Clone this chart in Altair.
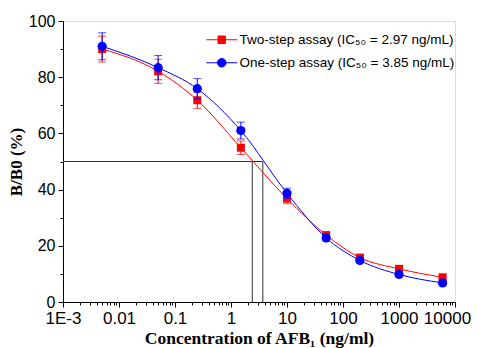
import altair as alt
import pandas as pd

# ---- data ----
conc = [0.005, 0.05, 0.25, 1.5, 10, 50, 200, 1000, 6000]
two_step = [90.0, 82.1, 71.8, 54.9, 36.8, 23.8, 15.8, 11.8, 8.8]
two_err = [4.6, 4.3, 2.9, 2.4, 1.8, 0.8, 0.8, 0.7, 0.6]
one_step = [91.0, 83.4, 75.9, 61.0, 38.7, 22.8, 14.8, 9.8, 6.8]
one_err = [4.8, 4.3, 3.6, 3.0, 1.8, 1.0, 0.8, 0.7, 0.6]
series_names = ["Two-step assay (IC₅₀ = 2.97 ng/mL)", "One-step assay (IC₅₀ = 3.85 ng/mL)"]
series_colors = ["#FF0000", "#0000FF"]
series_shapes = ["square", "circle"]
ic50_lines = [2.4, 3.7]          # positions of the vertical guide lines
half_level = 50
x_major = [0.001, 0.01, 0.1, 1, 10, 100, 1000, 10000]
x_minor = [m * d for d in [0.001, 0.01, 0.1, 1, 10, 100, 1000] for m in range(2, 10)]
y_major = [0, 20, 40, 60, 80, 100]
y_minor = [10, 30, 50, 70, 90]

rows = []
for name, vals, errs in [(series_names[0], two_step, two_err), (series_names[1], one_step, one_err)]:
    for c, v, e in zip(conc, vals, errs):
        rows.append({"series": name, "conc": c, "val": v, "lo": v - e, "hi": v + e})
df = pd.DataFrame(rows)

hline = pd.DataFrame({"x": [x_major[0]], "x2": [max(ic50_lines)], "y": [half_level]})
vlines = pd.DataFrame({"x": ic50_lines, "y": [0] * len(ic50_lines), "y2": [half_level] * len(ic50_lines)})

xscale = alt.Scale(type="log", domain=[x_major[0], x_major[-1]], nice=False)
yscale = alt.Scale(domain=[0, 100], nice=False)

major_test_x = "abs(log(datum.value)/LN10 - round(log(datum.value)/LN10)) < 1e-6"
x_axis = alt.Axis(
    title="Concentration of AFB₁ (ng/ml)",
    values=x_major + x_minor,
    labelExpr="(" + major_test_x + ") ? (datum.value < 0.005 ? '1E-3' : format(datum.value, '~g')) : ''",
    tickSize={"condition": {"test": major_test_x, "value": 5}, "value": 3},
    labelOffset={"condition": {"test": "datum.value > 5000", "value": -8}, "value": 0},
    labelOverlap=False, labelFlush=False, grid=False,
    labelFont="Liberation Sans", labelFontSize=17, labelColor="black", labelPadding=3,
    titleFont="Liberation Serif", titleFontSize=17.5, titleFontWeight="bold", titleColor="black",
    titlePadding=3, domainColor="black", tickColor="black",
)
y_axis = alt.Axis(
    title="B/B0 (%)",
    values=y_major + y_minor,
    labelExpr="datum.value % 20 == 0 ? datum.value : ''",
    tickSize={"condition": {"test": "datum.value % 20 == 0", "value": 5}, "value": 3},
    labelOverlap=False, grid=False,
    labelFont="Liberation Sans", labelFontSize=16, labelColor="black", labelPadding=3,
    titleFont="Liberation Serif", titleFontSize=17, titleFontWeight="bold", titleColor="black",
    titlePadding=3, domainColor="black", tickColor="black",
)


def X(field):
    return alt.X(field, scale=xscale, axis=x_axis)


def Y(field):
    return alt.Y(field, scale=yscale, axis=y_axis)


base = alt.Chart(df)
layers = []
layers.append(
    alt.Chart(hline).mark_rule(color="#333333", strokeWidth=1).encode(
        x=X("x:Q"), x2="x2:Q", y=Y("y:Q"))
)
layers.append(
    alt.Chart(vlines).mark_rule(color="#333333", strokeWidth=1).encode(
        x=X("x:Q"), y=Y("y:Q"), y2="y2:Q")
)

for name, col, shp in zip(series_names, series_colors, series_shapes):
    sub = base.transform_filter(alt.datum.series == name)
    layers.append(sub.mark_line(interpolate="monotone", strokeWidth=1, color=col).encode(
        x=X("conc:Q"), y=Y("val:Q")))
    layers.append(sub.mark_rule(strokeWidth=1, color=col).encode(
        x=X("conc:Q"), y=Y("lo:Q"), y2="hi:Q"))
    layers.append(sub.mark_tick(orient="horizontal", size=8, thickness=1, color=col).encode(
        x=X("conc:Q"), y=Y("hi:Q")))
    layers.append(sub.mark_tick(orient="horizontal", size=8, thickness=1, color=col).encode(
        x=X("conc:Q"), y=Y("lo:Q")))
    layers.append(sub.mark_point(shape=shp, filled=True, size=64 if shp == "square" else 85,
                                 opacity=1, color=col).encode(
        x=X("conc:Q"), y=Y("val:Q")))

# legend-only layer (no visible data): line + marker symbols
sym_sq = "M-3.1,0H3.1M-0.75,-0.75H0.75V0.75H-0.75Z"
sym_ci = "M-3.1,0H3.1M-0.85,0A0.85,0.85 0 1,1 0.85,0A0.85,0.85 0 1,1 -0.85,0Z"
leg = alt.Legend(
    title=None, orient="none", legendX=152, legendY=12, symbolSize=100, padding=0,
    symbolStrokeWidth=1, labelFont="Liberation Sans", labelFontSize=13.5, labelColor="black",
    labelOffset=11, rowPadding=8, labelLimit=300,
)
layers.append(
    base.transform_filter("datum.conc < 0").mark_point(filled=True, opacity=1, strokeWidth=1).encode(
        x=X("conc:Q"), y=Y("val:Q"),
        fill=alt.Fill("series:N", scale=alt.Scale(domain=series_names, range=series_colors), legend=leg),
        stroke=alt.Stroke("series:N", scale=alt.Scale(domain=series_names, range=series_colors), legend=leg),
        shape=alt.Shape("series:N", scale=alt.Scale(domain=series_names, range=[sym_sq, sym_ci]), legend=leg),
    )
)

chart = alt.layer(*layers).properties(
    width=392, height=281,
    padding={"left": 55, "top": 13, "right": 16, "bottom": 46},
    autosize="none",
).configure_view(stroke="black", strokeWidth=1).configure(background="white")

chart.save("out.html", embed_options={"renderer": "svg", "actions": False})
